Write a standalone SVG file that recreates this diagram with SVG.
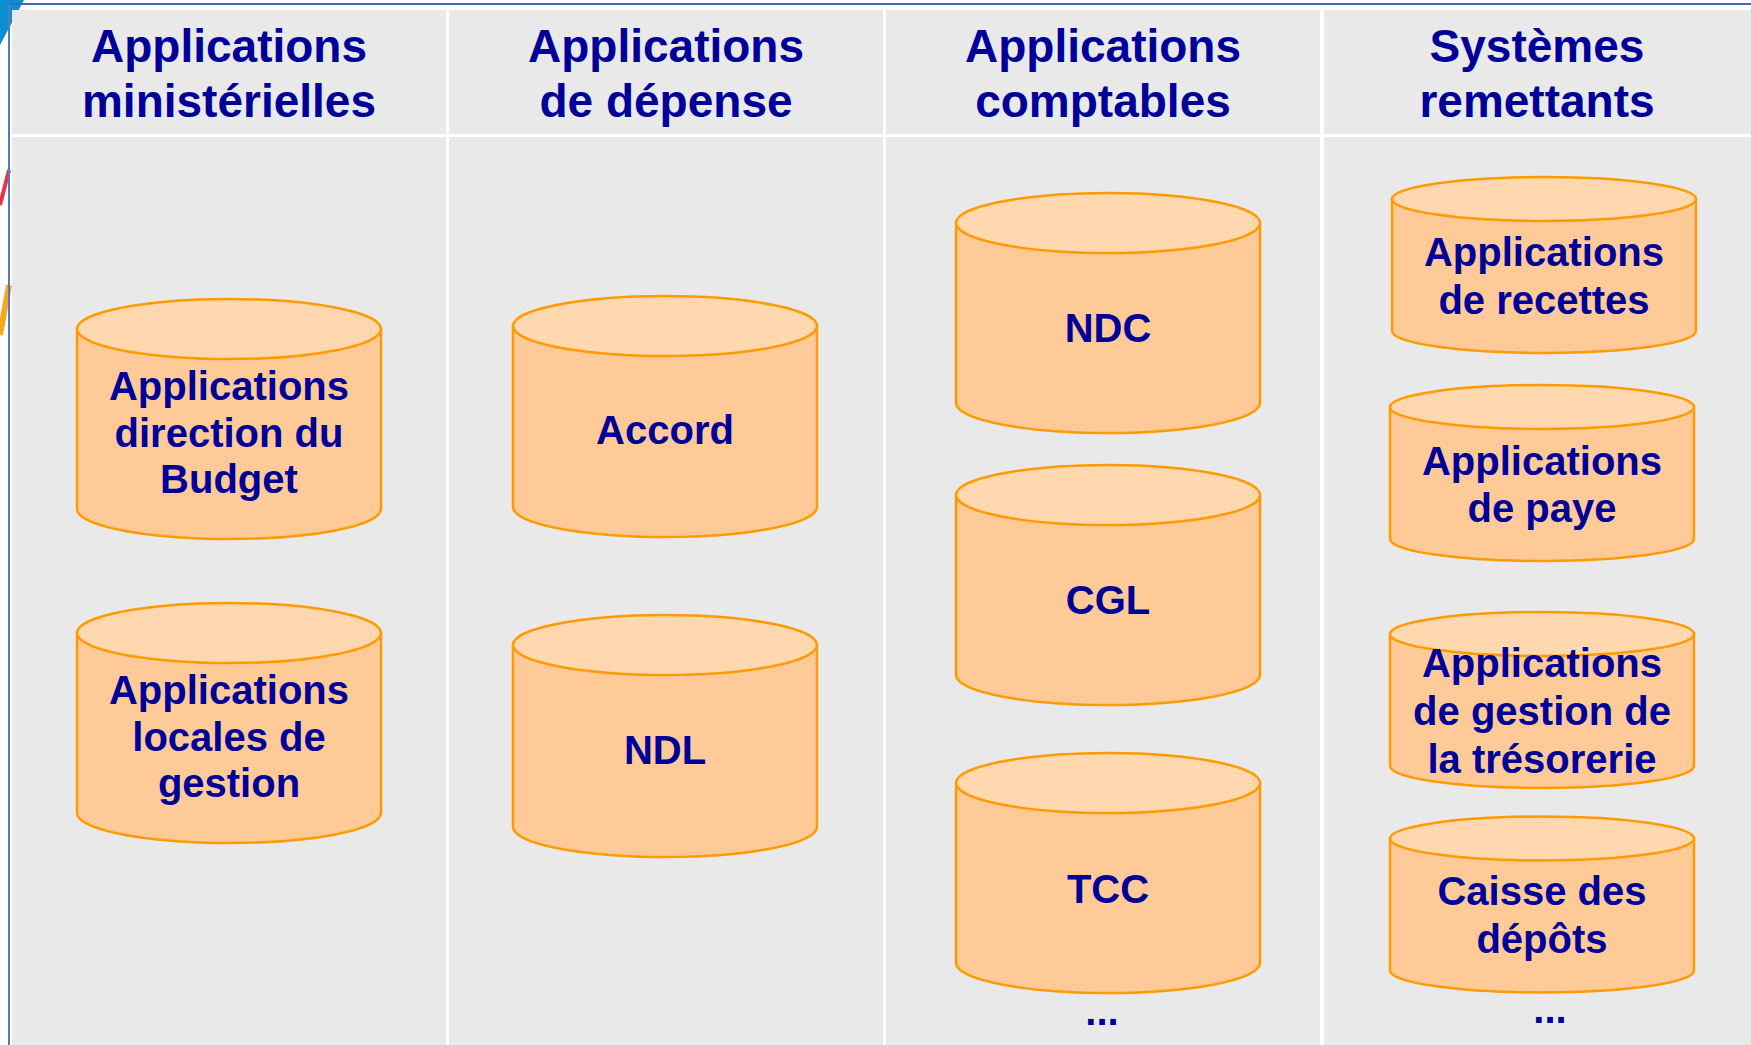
<svg xmlns="http://www.w3.org/2000/svg" width="1751" height="1045" viewBox="0 0 1751 1045">
<style>
.cell{fill:#E9E9E9}
.hd{font-family:"Liberation Sans",Arial,sans-serif;font-weight:bold;font-size:46px;fill:#000099;text-anchor:middle}
.lb{font-family:"Liberation Sans",Arial,sans-serif;font-weight:bold;font-size:40px;fill:#000099;text-anchor:middle}
.body{fill:#FECB98;stroke:#FF9A00;stroke-width:2.5}
.top{fill:#FFD8AF;stroke:#FF9A00;stroke-width:2.5}
</style>
<rect x="0" y="0" width="1751" height="1045" fill="#FFFFFF"/>
<g id="deco">
<polygon points="0,0 24,0 0,45" fill="#0A8FD0"/>
<line x1="0" y1="205" x2="9" y2="170" stroke="#E8334A" stroke-width="4"/>
<line x1="0" y1="335" x2="9" y2="285" stroke="#F7A823" stroke-width="6"/>
</g>
<line x1="9" y1="4" x2="1751" y2="4" stroke="#3C68B8" stroke-width="2"/>
<line x1="9" y1="4" x2="9" y2="1045" stroke="#5679C0" stroke-width="2"/>
<g id="grid">
<rect class="cell" x="12" y="10" width="434" height="124"/>
<rect class="cell" x="449" y="10" width="434" height="124"/>
<rect class="cell" x="886" y="10" width="434" height="124"/>
<rect class="cell" x="1324" y="10" width="427" height="124"/>
<rect class="cell" x="12" y="137" width="434" height="908"/>
<rect class="cell" x="449" y="137" width="434" height="908"/>
<rect class="cell" x="886" y="137" width="434" height="908"/>
<rect class="cell" x="1324" y="137" width="427" height="908"/>
</g>
<g id="headers">
<text class="hd" x="229" y="62">Applications<tspan x="229" y="117">ministérielles</tspan></text>
<text class="hd" x="666" y="62">Applications<tspan x="666" y="117">de dépense</tspan></text>
<text class="hd" x="1103" y="62">Applications<tspan x="1103" y="117">comptables</tspan></text>
<text class="hd" x="1537" y="62">Systèmes<tspan x="1537" y="117">remettants</tspan></text>
</g>
<g id="connectors"></g>
<g id="n-budget">
<path class="body" d="M77,329 V509 A152,30 0 0 0 381,509 V329 Z"/>
<ellipse class="top" cx="229" cy="329" rx="152" ry="30"/>
<text class="lb" x="229" y="400">Applications<tspan x="229" y="446.5">direction du</tspan><tspan x="229" y="493">Budget</tspan></text>
</g>
<g id="n-locales">
<path class="body" d="M77,633 V813 A152,30 0 0 0 381,813 V633 Z"/>
<ellipse class="top" cx="229" cy="633" rx="152" ry="30"/>
<text class="lb" x="229" y="704">Applications<tspan x="229" y="750.5">locales de</tspan><tspan x="229" y="797">gestion</tspan></text>
</g>
<g id="n-accord">
<path class="body" d="M513,326 V507 A152,30 0 0 0 817,507 V326 Z"/>
<ellipse class="top" cx="665" cy="326" rx="152" ry="30"/>
<text class="lb" x="665" y="444">Accord</text>
</g>
<g id="n-ndl">
<path class="body" d="M513,645 V827 A152,30 0 0 0 817,827 V645 Z"/>
<ellipse class="top" cx="665" cy="645" rx="152" ry="30"/>
<text class="lb" x="665" y="764">NDL</text>
</g>
<g id="n-ndc">
<path class="body" d="M956,223 V403 A152,30 0 0 0 1260,403 V223 Z"/>
<ellipse class="top" cx="1108" cy="223" rx="152" ry="30"/>
<text class="lb" x="1108" y="342">NDC</text>
</g>
<g id="n-cgl">
<path class="body" d="M956,495 V675 A152,30 0 0 0 1260,675 V495 Z"/>
<ellipse class="top" cx="1108" cy="495" rx="152" ry="30"/>
<text class="lb" x="1108" y="614">CGL</text>
</g>
<g id="n-tcc">
<path class="body" d="M956,783 V963 A152,30 0 0 0 1260,963 V783 Z"/>
<ellipse class="top" cx="1108" cy="783" rx="152" ry="30"/>
<text class="lb" x="1108" y="903">TCC</text>
</g>
<text id="more-comptables" class="lb" x="1102" y="1025">...</text>
<g id="n-recettes">
<path class="body" d="M1392,199 V331 A152,22 0 0 0 1696,331 V199 Z"/>
<ellipse class="top" cx="1544" cy="199" rx="152" ry="22"/>
<text class="lb" x="1544" y="266">Applications<tspan x="1544" y="314">de recettes</tspan></text>
</g>
<g id="n-paye">
<path class="body" d="M1390,407 V539 A152,22 0 0 0 1694,539 V407 Z"/>
<ellipse class="top" cx="1542" cy="407" rx="152" ry="22"/>
<text class="lb" x="1542" y="475">Applications<tspan x="1542" y="522">de paye</tspan></text>
</g>
<g id="n-tresorerie">
<path class="body" d="M1390,634 V766 A152,22 0 0 0 1694,766 V634 Z"/>
<ellipse class="top" cx="1542" cy="634" rx="152" ry="22"/>
<text class="lb" x="1542" y="677">Applications<tspan x="1542" y="725">de gestion de</tspan><tspan x="1542" y="773">la trésorerie</tspan></text>
</g>
<g id="n-caisse">
<path class="body" d="M1390,838.5 V970.5 A152,22 0 0 0 1694,970.5 V838.5 Z"/>
<ellipse class="top" cx="1542" cy="838.5" rx="152" ry="22"/>
<text class="lb" x="1542" y="905">Caisse des<tspan x="1542" y="953">dépôts</tspan></text>
</g>
<text id="more-remettants" class="lb" x="1550" y="1023">...</text>
</svg>
